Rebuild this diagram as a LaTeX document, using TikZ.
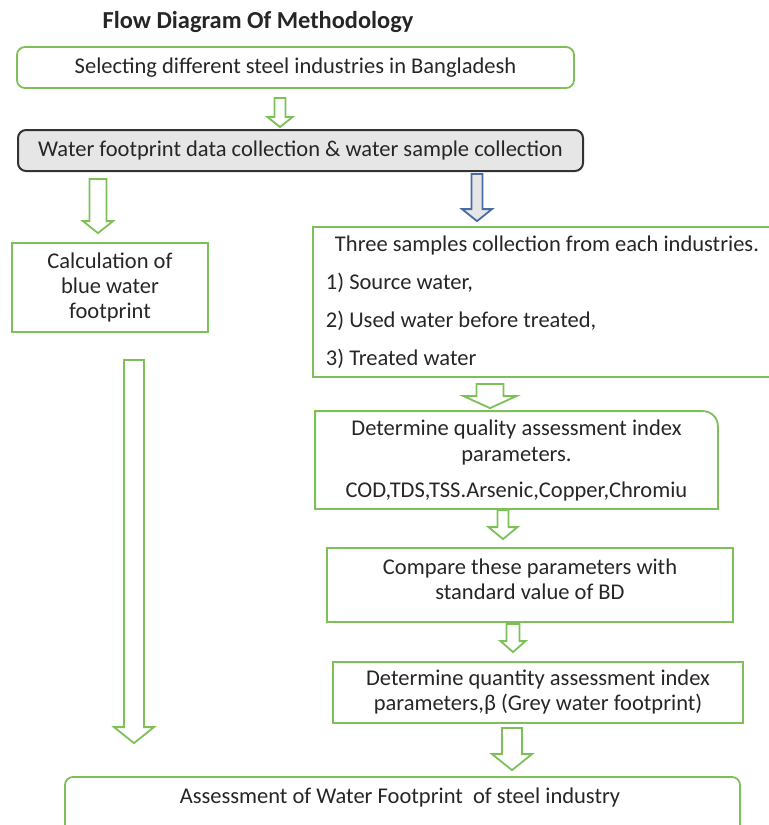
\documentclass[tikz,border=0pt]{standalone}
\usepackage{fontspec}
\setmainfont{Carlito}
\usepackage{xcolor}
\usepackage{tikz}
\usetikzlibrary{calc,positioning}

\definecolor{boxgreen}{RGB}{125,192,88}
\definecolor{arrowblue}{RGB}{72,106,165}
\definecolor{boxgrey}{RGB}{230,230,230}
\definecolor{textgrey}{RGB}{38,38,38}

% hollow block arrow: #2 from, #3 to, #4 x, #5/#6 gaps, #7 shaft, #8 head, #9 head length
\newcommand{\blockarrow}[9][]{%
  \draw[blockarr,#1] let \p1=(#2.south), \p2=(#3.north) in
    ({(#4-#7/2)*0.5pt},{\y1-#5*0.5pt}) -- ({(#4-#7/2)*0.5pt},{\y2+(#6+#9)*0.5pt})
    -- ({(#4-#8/2)*0.5pt},{\y2+(#6+#9)*0.5pt}) -- ({#4*0.5pt},{\y2+#6*0.5pt})
    -- ({(#4+#8/2)*0.5pt},{\y2+(#6+#9)*0.5pt}) -- ({(#4+#7/2)*0.5pt},{\y2+(#6+#9)*0.5pt})
    -- ({(#4+#7/2)*0.5pt},{\y1-#5*0.5pt}) -- cycle;}

\begin{document}
\begin{tikzpicture}[x=0.5pt, y=-0.5pt,
    every node/.style={font=\fontsize{11.25}{12.75}\selectfont, text=textgrey, align=center},
    plainbox/.style={draw=boxgreen, line width=0.9pt, inner sep=0pt},
    roundbox/.style={plainbox, rounded corners=4pt},
    greybox/.style={draw=black!80, fill=boxgrey, line width=1pt, rounded corners=4pt, inner sep=0pt},
    blockarr/.style={draw=boxgreen, fill=white, line width=0.9pt, line join=miter}]
    \useasboundingbox (0,0) rectangle (769,825);
    \clip (0,0) rectangle (769,825);

    % Title
    \node[font=\fontsize{12.2}{14}\selectfont\bfseries] (title) at (258,22) {Flow Diagram Of Methodology};

    % Boxes
    \node[roundbox, minimum width=278.5pt, minimum height=20.5pt] (select) at (295.5,67.5)
        {Selecting different steel industries in Bangladesh};
    \node[greybox, minimum width=282.5pt, minimum height=20.5pt] (collect) at (300.5,150.5)
        {Water footprint data collection \& water sample collection};
    \node[plainbox, minimum width=98pt, minimum height=44.5pt, font=\fontsize{11.25}{12.5}\selectfont] (blue) at (110,287.5)
        {Calculation of\\blue water\\footprint};
    \node[plainbox, minimum width=229.5pt, minimum height=75pt, align=left] (samples) at (542.5,302)
        {\hspace*{4.5pt}Three samples collection from each industries.\\[6.25pt]
         1) Source water,\\[6.25pt]2) Used water before treated,\\[6.25pt]3) Treated water};
    \node[plainbox, draw=none, minimum width=200.5pt, minimum height=48pt, font=\fontsize{11.25}{13}\selectfont] (quality) at (516.5,460)
        {Determine quality assessment index\\parameters.\\[5pt]COD,TDS,TSS.Arsenic,Copper,Chromiu};
    \draw[boxgreen, line width=0.9pt] (quality.south west) -- (quality.north west)
        -- ([xshift=-7.5pt]quality.north east) arc[start angle=90, end angle=0, radius=7.5pt]
        -- (quality.south east) -- cycle;
    \node[plainbox, minimum width=203pt, minimum height=37pt, font=\fontsize{11.25}{12.5}\selectfont] (compare) at (530,585)
        {Compare these parameters with\\standard value of BD\\[-7pt]\mbox{}};
    \node[plainbox, minimum width=205pt, minimum height=30.5pt, font=\fontsize{11.25}{12.5}\selectfont] (quantity) at (538,692.5)
        {Determine quantity assessment index\\parameters,β (Grey water footprint)};
    \node[roundbox, minimum width=337.5pt, minimum height=40pt] (final) at (402.5,817) {};
    \node (finaltext) at (400,797) {Assessment of Water Footprint~ of steel industry};

    % Arrows
    \blockarrow{select}{collect}{280}{9}{2}{11}{25}{10}
    \blockarrow{collect}{blue}{98}{7}{9}{17}{30}{12}
    \blockarrow[draw=arrowblue, fill=boxgrey]{collect}{samples}{477}{2}{5}{11}{30}{12}
    \blockarrow{samples}{quality}{490}{6}{3}{27}{53}{12}
    \blockarrow{quality}{compare}{503}{1}{8}{11}{29}{12}
    \blockarrow{compare}{quantity}{513}{1}{9}{13}{25}{11}
    \blockarrow{quantity}{final}{512}{4}{6}{20}{40}{16}
    \blockarrow{blue}{final}{134}{27}{33}{20}{40}{16}
\end{tikzpicture}
\end{document}
